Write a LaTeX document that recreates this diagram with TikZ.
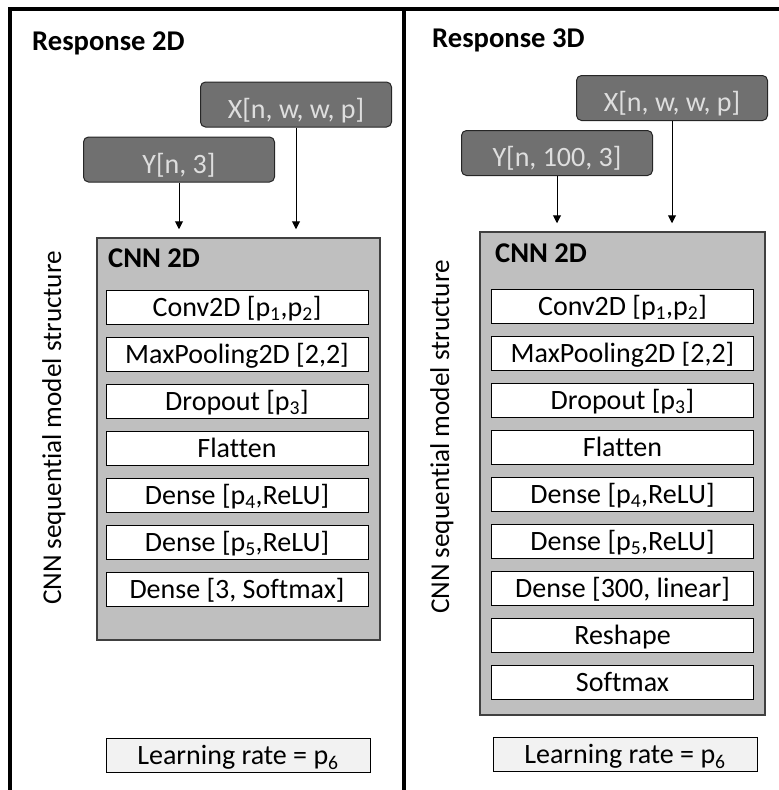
\documentclass[tikz,border=0pt]{standalone}
\usepackage{fontspec}
\setmainfont{Carlito}[Ligatures=NoCommon]
\usetikzlibrary{arrows.meta}
\definecolor{inputgray}{RGB}{112,112,112}
\definecolor{inputtext}{RGB}{222,222,222}
\definecolor{cnngray}{RGB}{191,191,191}
\definecolor{rategray}{RGB}{242,242,242}

\begin{document}
\begin{tikzpicture}[x=1pt,y=-1pt,
  txt/.style={font=\fontsize{28}{32}\selectfont},
  head/.style={font=\fontsize{28.6}{32}\selectfont\bfseries, inner sep=0pt},
  inbox/.style={txt, draw=black!85, fill=inputgray, text=inputtext, rounded corners=5pt,
    minimum width=191pt, minimum height=45pt, inner sep=0pt, line width=1pt,
    text height=30pt, text depth=3pt},
  cnnbox/.style={draw=black!75, fill=cnngray, line width=1.5pt, inner sep=0pt},
  layer/.style={txt, draw=black, fill=white, minimum width=262pt, minimum height=34pt,
    inner sep=0pt, line width=1pt, text height=22pt, text depth=3pt},
  rate/.style={layer, fill=rategray, minimum width=264pt},
  side/.style={font=\fontsize{27.2}{30}\selectfont, rotate=90, inner sep=0pt, anchor=base},
  feed/.style={-{Triangle[length=8pt,width=8pt]}, line width=1pt, shorten >=8pt}]
\useasboundingbox (0,0) rectangle (779,790);
\draw [line width=3.6pt] (10,790) -- (10,9) -- (779,9);
\draw [line width=3.6pt] (404,9) -- (404,790);

\node [head, anchor=base west] (titleL) at (32,50) {Response 2D};
\node [inbox] (xL) at (296,104.5) {X[n, w, w, p]};
\node [inbox] (yL) at (179,159.5) {Y[n, 3]};
\node [cnnbox, minimum width=283pt, minimum height=402pt] (cnnL) at (238.5,439) {};
\node [head, anchor=base west] (nameL) at (108,267) {CNN 2D};
\node [layer] (convL) at (237,307) {Conv2D [p\textsubscript{1},p\textsubscript{2}]};
\node [layer] (poolL) at (237,354) {MaxPooling2D [2,2]};
\node [layer] (dropL) at (237,401) {Dropout [p\textsubscript{3}]};
\node [layer] (flatL) at (237,448) {Flatten};
\node [layer] (denseaL) at (237,495) {Dense [p\textsubscript{4},ReLU]};
\node [layer] (densebL) at (237,542) {Dense [p\textsubscript{5},ReLU]};
\node [layer] (outL) at (237,589) {Dense [3, Softmax]};
\node [side] (sideL) at (61,428) {CNN sequential model structure};
\node [rate] (rateL) at (238,755) {Learning rate = p\textsubscript{6}};
\draw [feed] (yL.south) -- (yL.south |- cnnL.north);
\draw [feed] (xL.south) -- (xL.south |- cnnL.north);

\node [head, anchor=base west] (titleR) at (432,47) {Response 3D};
\node [inbox] (xR) at (672,98) {X[n, w, w, p]};
\node [inbox] (yR) at (557,153) {Y[n, 100, 3]};
\node [cnnbox, minimum width=285pt, minimum height=483pt] (cnnR) at (622.5,473.5) {};
\node [head, anchor=base west] (nameR) at (495,262) {CNN 2D};
\node [layer] (convR) at (622.5,306) {Conv2D [p\textsubscript{1},p\textsubscript{2}]};
\node [layer] (poolR) at (622.5,353) {MaxPooling2D [2,2]};
\node [layer] (dropR) at (622.5,400) {Dropout [p\textsubscript{3}]};
\node [layer] (flatR) at (622.5,447) {Flatten};
\node [layer] (denseaR) at (622.5,494) {Dense [p\textsubscript{4},ReLU]};
\node [layer] (densebR) at (622.5,541) {Dense [p\textsubscript{5},ReLU]};
\node [layer] (linR) at (622.5,588) {Dense [300, linear]};
\node [layer] (reshR) at (622.5,635) {Reshape};
\node [layer] (softR) at (622.5,682) {Softmax};
\node [side] (sideR) at (449,437) {CNN sequential model structure};
\node [rate] (rateR) at (625,754) {Learning rate = p\textsubscript{6}};
\draw [feed] (yR.south) -- (yR.south |- cnnR.north);
\draw [feed] (xR.south) -- (xR.south |- cnnR.north);
\end{tikzpicture}
\end{document}
